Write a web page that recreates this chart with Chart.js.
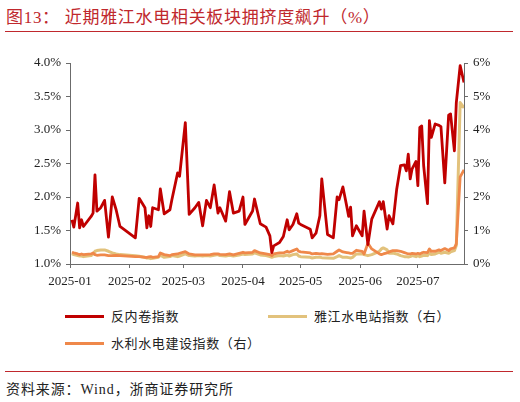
<!doctype html>
<html lang="zh">
<head>
  <meta charset="utf-8">
  <title>近期雅江水电相关板块拥挤度飙升</title>
  <script src="https://cdn.jsdelivr.net/npm/chart.js"></script>
  <style>
    html,body{margin:0;padding:0;background:#fff;}
    body{width:520px;height:402px;position:relative;overflow:hidden;
         font-family:"Liberation Serif","Noto Sans CJK SC",serif;color:#222;}
    #title{position:absolute;left:6px;top:3px;font-size:17px;letter-spacing:0.7px;
           color:#C0282D;white-space:pre;font-family:"Liberation Serif","Noto Sans CJK SC",serif;}
    .rule{position:absolute;left:5px;width:508px;height:1px;background:#C0282D;}
    #chart{position:absolute;left:0;top:50px;}
    .leg{position:absolute;font-size:13px;letter-spacing:0.6px;white-space:nowrap;
         font-family:"Noto Sans CJK SC",sans-serif;color:#222;line-height:16px;}
    .leg i{display:inline-block;width:39px;height:3px;vertical-align:middle;margin-right:7px;
           position:relative;top:-1px;}
    #source{position:absolute;left:6px;top:378px;font-size:14px;letter-spacing:0.9px;white-space:pre;}
  </style>
</head>
<body>
  <div id="title">图13： 近期雅江水电相关板块拥挤度飙升（%）</div>
  <div class="rule" style="top:31px"></div>
  <canvas id="chart" width="520" height="250"></canvas>
  <div id="legend"></div>
  <div class="rule" style="top:371px"></div>
  <div id="source">资料来源：Wind，浙商证券研究所</div>

  <script>
    /* ─── data ─── */
    const monthLabels = ['2025-01','2025-02','2025-03','2025-04','2025-05','2025-06','2025-07'];
    const endDate = '07-25';

    const dates = [
      '01-02','01-03','01-05','01-06','01-07','01-08','01-12','01-13','01-14','01-15','01-17','01-19','01-21','01-23','01-25','01-27',
      '02-04','02-06','02-09','02-10','02-11','02-12','02-13','02-16','02-17','02-19','02-22','02-23','02-26','02-27',
      '03-02','03-04','03-07','03-09','03-11','03-13','03-15','03-17','03-19','03-20','03-23','03-25','03-27','03-30',
      '04-01','04-02','04-06','04-07','04-10','04-13','04-15','04-16','04-17','04-20','04-22','04-24','04-25','04-27','04-29','04-30',
      '05-01','05-06','05-07','05-09','05-11','05-12','05-15','05-18','05-20','05-21','05-23','05-25','05-26','05-27','05-28','05-30',
      '06-02','06-03','06-05','06-07','06-11','06-12','06-13','06-15','06-16','06-18','06-20','06-22','06-24','06-25','06-26','06-27','06-28','06-30',
      '07-01','07-02','07-03','07-04','07-06','07-07','07-08','07-10','07-12','07-13','07-15','07-17','07-18','07-20','07-21','07-23','07-25'
    ];

    // 反内卷指数 (left axis, %)
    const antiInvolution = [
      1.66,1.55,1.91,1.54,1.66,1.56,1.71,1.76,2.33,1.79,1.84,1.95,1.40,2.00,1.81,1.56,
      1.39,1.98,1.84,1.54,1.72,1.56,1.84,1.81,2.12,1.75,1.81,1.96,2.36,2.31,
      3.11,1.74,1.84,1.92,1.57,1.95,1.84,2.18,1.76,1.84,1.64,2.08,1.76,1.79,
      2.00,1.59,1.79,1.97,1.60,1.55,1.42,1.17,1.27,1.32,1.41,1.66,1.51,1.59,1.75,1.61,
      1.59,1.52,1.39,1.46,1.72,2.27,1.44,1.39,2.00,1.96,2.15,1.86,1.71,1.85,1.42,1.57,
      1.42,1.79,1.29,1.67,1.93,1.82,1.93,1.52,1.72,1.60,2.12,2.47,2.48,2.39,2.64,2.27,2.42,2.53,
      2.17,3.04,3.06,2.47,1.90,3.14,2.89,3.09,3.07,3.05,2.21,3.22,3.24,2.69,3.41,3.96,3.71
    ];

    // 雅江水电站指数 (right axis, %)
    const yajiangHydro = [
      0.31,0.28,0.25,0.24,0.24,0.22,0.25,0.30,0.38,0.40,0.42,0.42,0.38,0.33,0.30,0.28,
      0.25,0.23,0.20,0.18,0.18,0.16,0.17,0.20,0.26,0.20,0.22,0.25,0.22,0.24,
      0.30,0.25,0.24,0.25,0.24,0.25,0.24,0.26,0.28,0.25,0.24,0.26,0.24,0.27,
      0.30,0.28,0.30,0.33,0.27,0.25,0.22,0.20,0.22,0.25,0.24,0.27,0.24,0.28,0.30,0.24,
      0.22,0.20,0.18,0.20,0.20,0.19,0.18,0.17,0.22,0.25,0.20,0.20,0.19,0.18,0.20,0.30,
      0.30,0.28,0.25,0.28,0.38,0.45,0.48,0.42,0.32,0.33,0.30,0.25,0.22,0.22,0.21,0.22,0.25,0.22,
      0.25,0.22,0.24,0.26,0.25,0.33,0.28,0.30,0.35,0.32,0.35,0.32,0.36,0.40,0.55,4.82,4.66
    ];

    // 水利水电建设指数 (right axis, %)
    const hydroConstruction = [
      0.35,0.33,0.30,0.28,0.30,0.28,0.30,0.33,0.28,0.26,0.27,0.27,0.25,0.25,0.26,0.25,
      0.22,0.22,0.20,0.20,0.21,0.22,0.20,0.22,0.33,0.28,0.25,0.28,0.30,0.32,
      0.37,0.30,0.27,0.27,0.27,0.27,0.28,0.30,0.30,0.29,0.28,0.30,0.27,0.32,
      0.35,0.33,0.35,0.40,0.33,0.30,0.28,0.25,0.30,0.33,0.33,0.38,0.35,0.40,0.45,0.38,
      0.36,0.33,0.30,0.32,0.30,0.31,0.29,0.30,0.38,0.42,0.36,0.34,0.33,0.32,0.32,0.41,
      0.38,0.30,0.62,0.45,0.30,0.28,0.30,0.33,0.36,0.40,0.40,0.38,0.34,0.32,0.30,0.30,0.32,0.30,
      0.32,0.30,0.33,0.35,0.34,0.45,0.38,0.38,0.42,0.40,0.46,0.40,0.45,0.48,0.60,2.60,2.81
    ];

    const seriesNames  = ['反内卷指数','雅江水电站指数（右）','水利水电建设指数（右）'];
    const seriesColors = ['#C00000','#E2C27C','#EF884A'];

    /* ─── helpers ─── */
    const DAY = 86400000;
    const dayNum = (m,d) => (Date.UTC(2025,m-1,d) - Date.UTC(2025,0,1)) / DAY;
    const fromMD = s => { const [m,d] = s.split('-').map(Number); return dayNum(m,d); };
    const xs = dates.map(fromMD);
    const monthTicks = monthLabels.map(l => dayNum(+l.slice(5),1));
    const pts = arr => arr.map((v,i) => ({x:xs[i], y:v}));

    const AXIS = '#6b6b6b';
    const tickFont = {family:'"Liberation Serif", serif', size:13};

    new Chart(document.getElementById('chart'), {
      type:'line',
      data:{datasets:[
        {label:seriesNames[0], data:pts(antiInvolution), yAxisID:'y',
         borderColor:seriesColors[0], borderWidth:2.8, order:0},
        {label:seriesNames[1], data:pts(yajiangHydro), yAxisID:'y1',
         borderColor:seriesColors[1], borderWidth:3, order:2},
        {label:seriesNames[2], data:pts(hydroConstruction), yAxisID:'y1',
         borderColor:seriesColors[2], borderWidth:2.8, order:1}
      ]},
      options:{
        responsive:false, animation:false,
        layout:{padding:{top:13, left:0, right:0, bottom:0}},
        elements:{point:{radius:0}, line:{tension:0, borderJoinStyle:'round'}},
        plugins:{legend:{display:false}, tooltip:{enabled:false}},
        scales:{
          x:{
            type:'linear', min:0, max:fromMD(endDate),
            afterBuildTicks:s => { s.ticks = monthTicks.map(v => ({value:v})); },
            afterFit:s => { s.height = 36; },
            ticks:{font:tickFont, color:'#222', padding:6, maxRotation:0, autoSkip:false,
                   callback:(v) => monthLabels[monthTicks.indexOf(v)] ?? ''},
            grid:{drawOnChartArea:false, tickLength:4, color:AXIS},
            border:{color:AXIS, width:1}
          },
          y:{
            position:'left', min:1, max:4,
            afterFit:s => { s.width = 70; },
            ticks:{stepSize:0.5, font:tickFont, color:'#222', padding:5,
                   callback:v => v.toFixed(1)+'%'},
            grid:{drawOnChartArea:false, tickLength:4, color:AXIS},
            border:{color:AXIS, width:1}
          },
          y1:{
            position:'right', min:0, max:6,
            afterFit:s => { s.width = 56; },
            ticks:{stepSize:1, font:tickFont, color:'#222', padding:5,
                   callback:v => v+'%'},
            grid:{drawOnChartArea:false, tickLength:4, color:AXIS},
            border:{color:AXIS, width:1}
          }
        }
      }
    });

    /* ─── legend (html) ─── */
    const legendPos = [[65,308],[268,308],[65,335]];
    document.getElementById('legend').innerHTML = seriesNames.map((n,i) =>
      `<div class="leg" style="left:${legendPos[i][0]}px;top:${legendPos[i][1]}px">` +
      `<i style="background:${seriesColors[i]}"></i>${n}</div>`).join('');
  </script>
</body>
</html>
